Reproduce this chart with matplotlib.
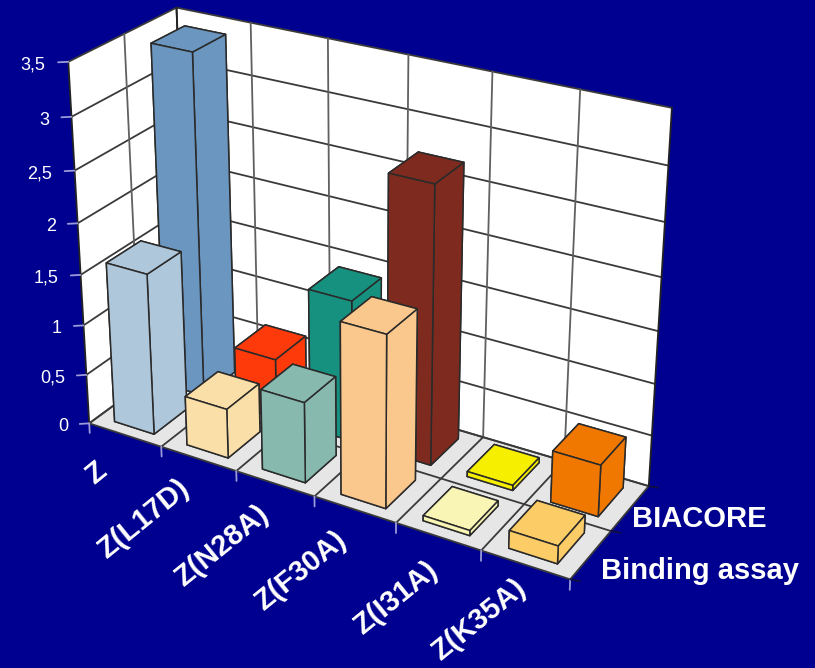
import numpy as np
import matplotlib
matplotlib.use("Agg")
import matplotlib.pyplot as plt
from mpl_toolkits.mplot3d import proj3d
from mpl_toolkits.mplot3d.art3d import Poly3DCollection

# ---- data ----
categories = ["Z", "Z(L17D)", "Z(N28A)", "Z(F30A)", "Z(I31A)", "Z(K35A)"]
series = ["Binding assay", "BIACORE"]
binding_assay = [1.6, 0.49, 0.79, 1.66, 0.05, 0.17]
biacore = [3.4, 0.6, 1.4, 2.69, 0.05, 0.5]
binding_colors = ["#AFC7DA", "#FADFA8", "#87B9AF", "#FAC88C", "#F9F5B4", "#FCCC66"]
biacore_colors = ["#6A96C0", "#FF3A0A", "#16917F", "#7E2A1E", "#F6EF00", "#F07800"]
z_ticks = [0, 0.5, 1, 1.5, 2, 2.5, 3, 3.5]
z_tick_labels = ["0", "0,5", "1", "1,5", "2", "2,5", "3", "3,5"]
series_label_pos = [(6.209, 0.289), (6.096, 1.322)]
category_label_pos = [(0.48, -0.54), (1.47, -0.38), (2.5, -0.38), (3.47, -0.38), (4.55, -0.38), (5.47, -0.2)]

BG = "#000090"
W, H = 815, 668
ZMAX = 3.5
NX, NY = len(categories), len(series)

# camera calibration: (x, y, z) -> picture pixel
calib = [
    ((0, 0, 3.5), (68, 62)), ((0, 2, 3.5), (177, 6)), ((6, 2, 3.5), (672, 107)),
    ((0, 0, 0), (89, 422)), ((6, 0, 0), (570, 580)), ((6, 2, 0), (648, 485)),
    ((6, 1, 0), (613, 530)), ((0, 2, 0), (188, 352)),
    ((1, 0, 0), (162, 447)), ((2, 0, 0), (237, 470)), ((3, 0, 0), (315, 497)),
    ((4, 0, 0), (395, 523)), ((5, 0, 0), (480, 552)),
    ((1, 2, 3.5), (252, 23)), ((4, 2, 3.5), (492, 72)), ((5, 2, 3.5), (580, 90)),
    ((0, 1, 3.5), (123, 35)), ((0, 0, 1.5), (81, 274)),
]
A, b = [], []
for (x, y, z), (u, v) in calib:
    v = H - v
    A.append([x, y, z, 1, 0, 0, 0, 0, -u * x, -u * y, -u * z]); b.append(u)
    A.append([0, 0, 0, 0, x, y, z, 1, -v * x, -v * y, -v * z]); b.append(v)
p = np.linalg.lstsq(np.array(A, float), np.array(b, float), rcond=None)[0]
M = np.array([p[:4], p[4:8], [-0.2, 1.0, -0.1, 0.0], [p[8], p[9], p[10], 1.0]])

fig = plt.figure(figsize=(W / 100, H / 100), dpi=100, facecolor=BG)
ax = fig.add_axes([0, 0, 1, 1], projection="3d", computed_zorder=False)
ax.set_proj_type("ortho")
ax.apply_aspect = lambda position=None: None
ax.get_proj = lambda: M
ax.set_axis_off()
ax.patch.set_visible(False)
ax.viewLim.intervalx = (0, W)
ax.viewLim.intervaly = (0, H)
ax.M = M


def face(verts, color, z):
    ax.add_collection3d(Poly3DCollection([verts], facecolors=color, edgecolors="none", zorder=z))


def line(a, b_, color="#3A3A3A", lw=1.3, z=3):
    ax.plot([a[0], b_[0]], [a[1], b_[1]], [a[2], b_[2]], color=color, lw=lw, zorder=z,
            solid_capstyle="round")


def label(x, y, z, s, **kw):
    px, py, _ = proj3d.proj_transform(x, y, z, M)
    ax.text2D(px, py, s, transform=ax.transData, color="white", zorder=200, **kw)


# walls and floor
face([(0, 0, 0), (0, NY, 0), (0, NY, ZMAX), (0, 0, ZMAX)], "white", 1)
face([(0, NY, 0), (NX, NY, 0), (NX, NY, ZMAX), (0, NY, ZMAX)], "white", 1)
face([(0, 0, 0), (NX, 0, 0), (NX, NY, 0), (0, NY, 0)], "#E6E6E6", 2)

# grid
for zt in z_ticks:
    line((0, 0, zt), (0, NY, zt))
    line((0, NY, zt), (NX, NY, zt))
for xt in range(NX + 1):
    line((xt, 0, 0), (xt, NY, 0))
    line((xt, NY, 0), (xt, NY, ZMAX), color="#606060" if 0 < xt < NX else "#222222")
for yt in range(NY + 1):
    line((0, yt, 0), (NX, yt, 0))
    line((0, yt, 0), (0, yt, ZMAX), color="#606060" if yt == 1 else "#222222")

# ticks
TICK = "#9A9AD8"
for zt, txt in zip(z_ticks, z_tick_labels):
    line((0, 0, zt), (-0.085, -0.065, zt), color=TICK, z=4)
    label(-0.19, -0.145, zt - 0.02, txt, ha="right", va="center", fontsize=13, family="Liberation Sans")
for xt in range(NX + 1):
    line((xt, 0, 0), (xt, 0, -0.1), color=TICK, z=4)
for yt in range(NY + 1):
    line((NX, yt, 0), (NX + 0.1, yt + 0.02, 0), color="#101040", z=4)

# bars: back row first, left to right
BW, BD = 0.55, 0.65
order = 10
for row, (vals, cols) in reversed(list(enumerate([(binding_assay, binding_colors), (biacore, biacore_colors)]))):
    for i, (v, c) in enumerate(zip(vals, cols)):
        col = ax.bar3d(i + (1 - BW) / 2, row + 0.18, 0, BW, BD, v, color=c, shade=False,
                       edgecolor="#2A2A2A", linewidth=1.1)
        col.set_zorder(order)
        order += 1

ax.viewLim.intervalx = (0, W)
ax.viewLim.intervaly = (0, H)

# category labels
for name, (cx, cy) in zip(categories, category_label_pos):
    label(cx, cy, 0, name, ha="right", va="top", rotation=39, rotation_mode="anchor",
          fontsize=21, fontweight="bold", family="Liberation Sans")

# series labels
for name, (sx, sy) in zip(series, series_label_pos):
    label(sx, sy, 0, name, ha="left", va="center", fontsize=21, fontweight="bold",
          family="Liberation Sans")

fig.savefig("out.png", dpi=100, facecolor=BG)
